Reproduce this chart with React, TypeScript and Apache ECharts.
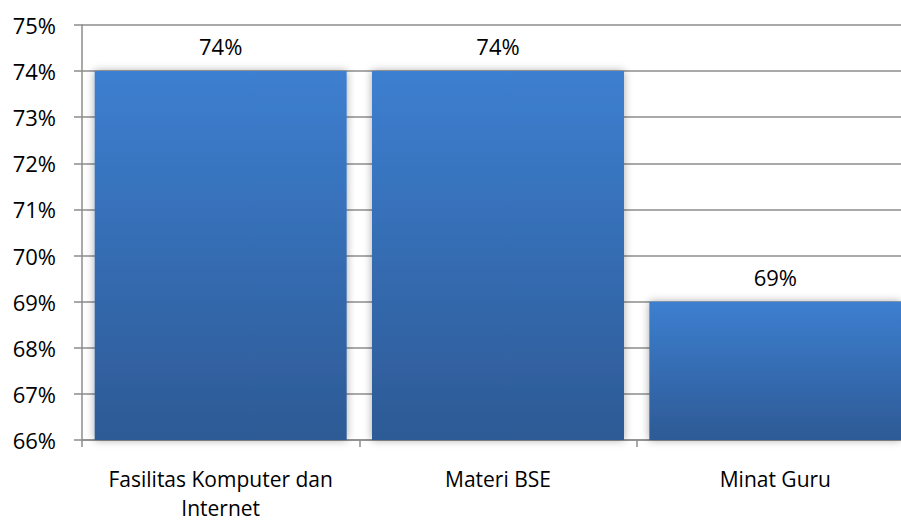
import React, { useEffect, useRef } from "react";
import * as echarts from "echarts";

const categories = ["Fasilitas Komputer dan\nInternet", "Materi BSE", "Minat Guru"];
const values = [74, 74, 69];
const yMin = 66;
const yMax = 75;

const FONT = "'Open Sans', 'Noto Sans', sans-serif";

export default function App() {
  const ref = useRef<HTMLDivElement>(null);
  useEffect(() => {
    document.body.style.margin = "0";
    const chart = echarts.init(ref.current!, null, { renderer: "svg" });
    chart.setOption({
      animation: false,
      backgroundColor: "#ffffff",
      grid: { left: 82, top: 25, width: 832, height: 415, containLabel: false, outerBoundsMode: "none" },
      xAxis: {
        type: "category",
        data: categories,
        axisLine: { show: true, lineStyle: { color: "#8c8c8c", width: 1.5 } },
        axisTick: { show: true, length: 7, lineStyle: { color: "#8c8c8c", width: 1.5 } },
        axisLabel: {
          color: "#000",
          fontSize: 21,
          fontFamily: FONT,
          lineHeight: 29,
          margin: 24,
          interval: 0,
        },
      },
      yAxis: {
        type: "value",
        min: yMin,
        max: yMax,
        interval: 1,
        axisLine: { show: true, lineStyle: { color: "#8c8c8c", width: 1.5 } },
        axisTick: { show: true, length: 8, lineStyle: { color: "#8c8c8c", width: 1.5 } },
        splitLine: { show: true, lineStyle: { color: "#8c8c8c", width: 1.5 } },
        axisLabel: {
          color: "#000",
          fontSize: 22,
          fontFamily: FONT,
          margin: 26,
          formatter: (v: number) => `${v}%`,
        },
      },
      series: [
        {
          type: "bar",
          data: values,
          barWidth: 252,
          itemStyle: {
            color: new echarts.graphic.LinearGradient(0, 0, 0, 1, [
              { offset: 0, color: "#3d7fd0" },
              { offset: 1, color: "#2d5a95" },
            ]),
            shadowColor: "rgba(0,0,0,0.35)",
            shadowBlur: 8,
            shadowOffsetX: 0,
            shadowOffsetY: 0,
          },
          label: {
            show: true,
            position: "top",
            distance: 14,
            color: "#000",
            fontSize: 22,
            fontFamily: FONT,
            formatter: (p: any) => `${p.value}%`,
          },
        },
      ],
    });
    return () => chart.dispose();
  }, []);
  return <div ref={ref} style={{ width: 901, height: 522 }} />;
}
